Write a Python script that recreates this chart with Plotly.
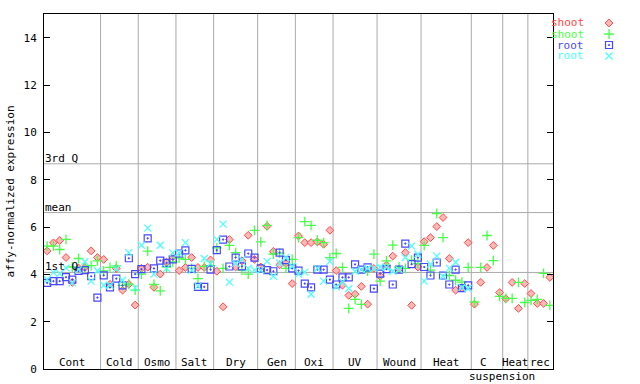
import numpy as np
import plotly.graph_objects as go

groups = ["Cont", "Cold", "Osmo", "Salt", "Dry", "Gen", "Oxi", "UV", "Wound", "Heat", "C", "Heat", "rec"]
counts = [9, 6, 6, 6, 7, 6, 6, 7, 7, 8, 5, 4, 4]

shoot_red = [
    4.99, 5.33, 5.43, 4.71, 3.66, 4.27, 4.29, 4.99, 4.71,
    4.63, 3.58, 4.25, 3.33, 3.58, 2.70,
    4.25, 4.30, 3.45, 4.01, 4.51, 4.74,
    4.16, 4.29, 4.71, 4.29, 4.29, 4.61,
    4.13, 2.63, 5.47, 4.31, 4.57, 5.65, 4.63,
    4.31, 6.03, 4.97, 4.40, 4.46, 3.61,
    5.62, 5.34, 5.34, 5.37, 5.27, 5.86,
    4.16, 3.54, 3.11, 3.16, 3.49, 2.74, 4.25,
    3.92, 4.39, 4.77, 4.22, 4.92, 2.69, 4.31,
    5.38, 5.55, 6.02, 6.40, 4.67, 3.33, 3.42, 5.34,
    2.74, 3.66, 4.29, 5.22, 3.23,
    2.97, 3.66, 2.56, 3.61,
    3.19, 2.77, 2.77, 3.87,
]
shoot_green = [
    5.19, 5.19, 5.05, 5.48, 4.31, 4.67, 4.31, 4.37, 4.57,
    4.15, 4.29, 4.36, 3.53, 3.58, 3.33,
    4.01, 4.98, 3.57, 3.30, 4.31, 4.53,
    4.69, 4.63, 4.25, 3.82, 4.34, 4.37,
    5.12, 4.25, 5.22, 4.92, 4.18, 4.01, 5.86,
    5.37, 6.07, 4.86, 4.90, 4.25, 4.63,
    5.55, 6.23, 6.07, 5.44, 5.34, 4.71,
    4.88, 4.29, 2.56, 2.94, 2.73, 4.14, 4.85,
    3.71, 4.57, 5.23, 4.31, 4.25, 4.60, 4.45,
    5.22, 4.18, 6.57, 5.55, 3.95, 3.75, 3.67, 4.29,
    2.83, 4.29, 5.64, 4.58, 3.07,
    2.98, 2.98, 3.66, 2.81,
    2.90, 2.94, 4.04, 2.69,
]
root_blue = [
    3.64, 3.71, 3.71, 3.88, 3.78, 4.15, 4.18, 3.92, 3.02,
    3.96, 3.45, 3.82, 3.53, 4.68, 4.01,
    4.22, 5.52, 4.25, 4.58, 4.48, 4.63,
    4.88, 5.01, 4.23, 3.47, 3.47, 4.20,
    5.02, 5.47, 4.33, 4.71, 4.34, 4.88, 4.71,
    4.25, 4.18, 4.13, 4.92, 4.60, 4.25,
    4.16, 3.61, 3.45, 4.20, 4.20, 3.78,
    3.57, 3.87, 3.87, 4.42, 4.20, 4.29, 3.40,
    4.03, 4.22, 3.57, 4.20, 5.30, 4.43, 4.71,
    4.31, 3.95, 4.50, 3.95, 3.57, 4.20, 3.42, 3.53,
    None, None, None, None, None,
    None, None, None, None,
    None, None, None, None,
]
root_cyan = [
    3.78, 4.08, 4.03, 4.27, 3.64, 4.20, 4.53, 3.71, 4.15,
    3.54, 3.54, 4.23, 3.75, 4.92, 3.43,
    5.23, 5.95, 4.01, 5.23, 4.25, 4.91,
    4.91, 5.34, 4.18, 3.50, 4.67, 4.46,
    5.48, 6.12, 3.67, 4.46, 4.63, 4.25, 4.18,
    4.18, 4.55, 3.92, 4.48, 4.71, 4.34,
    4.01, 4.09, 3.16, 4.25, 3.71, 4.55,
    3.47, 3.68, 3.40, 4.13, 4.20, 4.25, 4.25,
    4.31, 4.30, 4.13, 4.20, 4.71, 5.19, 4.85,
    3.71, 4.43, 4.77, 3.92, 4.25, 4.51, 3.45, 3.40,
    None, None, None, None, None,
    None, None, None, None,
    None, None, None, None,
]

stat_labels = ["3rd Q", "mean", "1st Q"]
stat_values = [8.67, 6.61, 4.08]

y_ticks = [0, 2, 4, 6, 8, 10, 12, 14]

n = sum(counts)
xs = np.arange(n) + 0.5
bounds = np.cumsum([0] + counts)

FONT = "DejaVu Sans Mono"
RED, GREEN, BLUE, CYAN = "#ff4848", "#48ff48", "#4848ff", "#48ffff"
GRID = "#aaaaaa"

# layout geometry (pixels)
L, R, T, B = 44, 4, 14, 15
W = 640 - L - R
H = 384 - T - B
PLOT_W = 509
main_dom = PLOT_W / W

series = [
    ("shoot", shoot_red, dict(symbol="diamond", size=6, color="#ffb8b8", line=dict(color=RED, width=1)), RED),
    ("shoot", shoot_green, dict(symbol="cross-thin-open", size=7, color=GREEN, line=dict(color=GREEN, width=1.3)), GREEN),
    ("root", root_blue, dict(symbol="square-open-dot", size=7, color=BLUE, line=dict(color=BLUE, width=1.2)), BLUE),
    ("root", root_cyan, dict(symbol="x-thin-open", size=7, color=CYAN, line=dict(color=CYAN, width=1.2)), CYAN),
]

fig = go.Figure()
for name, vals, mk, col in series:
    fig.add_trace(go.Scatter(x=xs, y=vals, mode="markers", marker=mk, showlegend=False,
                             hoverinfo="skip", xaxis="x", yaxis="y"))

# custom legend: text on the left, marker on the right (own pixel-like axes)
leg_rows = [23, 34, 45, 56]
leg_mark_x = 609
leg_text_x = 585
for (name, vals, mk, col), ly in zip(series, leg_rows):
    fig.add_trace(go.Scatter(x=[leg_mark_x], y=[ly], mode="markers", marker=mk,
                             showlegend=False, hoverinfo="skip", xaxis="x2", yaxis="y2",
                             cliponaxis=False))

annotations = []
for (name, vals, mk, col), ly in zip(series, leg_rows):
    annotations.append(dict(x=(leg_text_x - L) / W, y=(369 - ly) / H, xref="paper", yref="paper",
                            text=name, showarrow=False, xanchor="right", yanchor="middle", borderpad=0,
                            height=11, font=dict(family=FONT, size=11, color=col)))

shapes = []
for b in bounds[1:-1]:
    shapes.append(dict(type="line", x0=b, x1=b, y0=0, y1=15, xref="x", yref="y",
                       line=dict(color=GRID, width=1), layer="below"))
for v in stat_values:
    shapes.append(dict(type="line", x0=0, x1=n, y0=v, y1=v, xref="x", yref="y",
                       line=dict(color=GRID, width=1), layer="below"))

for lab, v in zip(stat_labels, stat_values):
    annotations.append(dict(x=0, y=v, xref="x", yref="y", text=lab, showarrow=False,
                            xanchor="left", yanchor="bottom", borderpad=0, yshift=-2,
                            font=dict(family=FONT, size=11, color="black")))
for i, g in enumerate(groups):
    c = (bounds[i] + bounds[i + 1]) / 2
    if g == "C":
        annotations.append(dict(x=c, y=0, xref="x", yref="paper", text="C", showarrow=False,
                                xanchor="center", yanchor="bottom", borderpad=0, xshift=-4, yshift=-1,
                                font=dict(family=FONT, size=11, color="black")))
        annotations.append(dict(x=c, y=0, xref="x", yref="paper", text="suspension", showarrow=False,
                                xanchor="center", yanchor="top", borderpad=0, xshift=15, yshift=0,
                                height=13, font=dict(family=FONT, size=11, color="black")))
    else:
        annotations.append(dict(x=c, y=0, xref="x", yref="paper", text=g, showarrow=False,
                                xanchor="center", yanchor="bottom", borderpad=0, yshift=-1,
                                font=dict(family=FONT, size=11, color="black")))

fig.update_layout(
    width=640, height=384,
    margin=dict(l=L, r=R, t=T, b=B, autoexpand=False),
    paper_bgcolor="white", plot_bgcolor="white",
    font=dict(family=FONT, size=11, color="black"),
    shapes=shapes, annotations=annotations,
    xaxis=dict(domain=[0, main_dom], range=[0, n], showgrid=False, zeroline=False, showticklabels=False,
               ticks="", showline=True, linecolor="black", linewidth=1, mirror=True, fixedrange=True,
               automargin=False, anchor="y"),
    yaxis=dict(domain=[0, 1], range=[0, 15], tickvals=y_ticks, ticks="inside", ticklen=6, tickcolor="black",
               showgrid=False, zeroline=False, showline=True, linecolor="black", linewidth=1,
               mirror="ticks", automargin=False, anchor="x", ticklabelstandoff=4,
               title=dict(text="affy-normalized expression", standoff=6, font=dict(family=FONT, size=11)),
               tickfont=dict(family=FONT, size=11), fixedrange=True),
    xaxis2=dict(domain=[main_dom + 0.01, 1], range=[L + PLOT_W + 0.01 * W, 640 - R], visible=False,
                anchor="y2", fixedrange=True),
    yaxis2=dict(domain=[0, 1], range=[369, 14], visible=False, anchor="x2", fixedrange=True),
)

fig.write_html("out.html", config={"displayModeBar": False},
               post_script="document.body.style.margin='0';document.body.style.overflow='hidden';")
